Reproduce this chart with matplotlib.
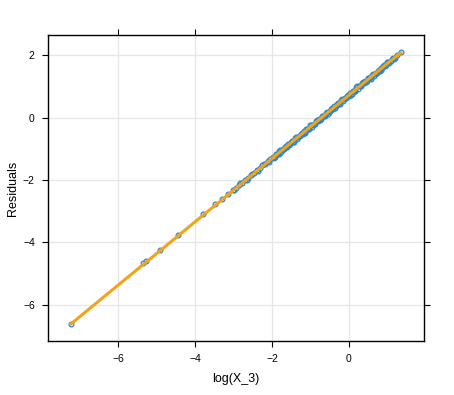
import matplotlib
matplotlib.use("Agg")
import matplotlib.pyplot as plt

# residuals vs log(X_3)
log_x3 = [-7.22, -5.35, -5.28, -4.92, -4.45, -3.78, -3.48, -3.30, -3.15,
          -3.02, -2.93, -2.86, -2.78, -2.70, -2.63, -2.55, -2.47, -2.40, -2.32,
          -2.25, -2.17, -2.10, -2.04,
          -1.98, -1.93, -1.88, -1.83, -1.78, -1.73, -1.68, -1.63, -1.58, -1.53,
          -1.48, -1.43, -1.38, -1.33, -1.28, -1.23, -1.18, -1.13, -1.08, -1.03,
          -0.98, -0.93, -0.88, -0.83, -0.78, -0.73, -0.68, -0.63, -0.58, -0.53,
          -0.48, -0.43, -0.38, -0.33, -0.28, -0.23, -0.18, -0.13, -0.08, -0.03,
          0.02, 0.07, 0.12, 0.17, 0.22, 0.27, 0.32, 0.37, 0.42, 0.47,
          0.52, 0.57, 0.62, 0.67, 0.72, 0.77, 0.82, 0.87, 0.92, 0.97,
          1.02, 1.08, 1.14, 1.20, 1.35,
          -2.98, -2.82, -2.66, -2.51, -2.36, -2.21, -2.07,
          -1.955, -1.905, -1.855, -1.805, -1.755, -1.705, -1.655, -1.605,
          -1.555, -1.505, -1.455, -1.405, -1.355, -1.305, -1.255, -1.205,
          -1.155, -1.105, -1.055, -1.005, -0.955, -0.905, -0.855, -0.805,
          -0.755, -0.705, -0.655, -0.605, -0.555, -0.505, -0.455, -0.405,
          -0.355, -0.305, -0.255, -0.205, -0.155, -0.105, -0.055, -0.005,
          0.045, 0.095, 0.145, 0.195, 0.245, 0.295, 0.345, 0.395,
          0.445, 0.495, 0.545, 0.595, 0.645, 0.695, 0.745, 0.795,
          0.845, 0.895, 0.945, 0.995, 1.05, 1.11, 1.17, 1.25]
residuals = [-6.61, -4.67, -4.60, -4.24, -3.77, -3.08, -2.77, -2.60, -2.44,
             -2.31, -2.24, -2.15, -2.08, -1.99, -1.93, -1.84, -1.77, -1.69, -1.62,
             -1.53, -1.47, -1.38, -1.33,
             -1.25, -1.27, -1.17, -1.18, -1.03, -1.03, -1.00, -0.90, -0.84, -0.86,
             -0.76, -0.78, -0.63, -0.63, -0.60, -0.50, -0.43, -0.45, -0.35, -0.37,
             -0.22, -0.22, -0.19, -0.09, -0.03, -0.05, 0.05, 0.04, 0.19, 0.19,
             0.22, 0.32, 0.38, 0.36, 0.46, 0.44, 0.59, 0.59, 0.62, 0.72,
             0.79, 0.77, 0.87, 0.85, 1.00, 1.00, 1.03, 1.13, 1.19, 1.17,
             1.27, 1.25, 1.41, 1.41, 1.44, 1.54, 1.60, 1.58, 1.68, 1.69,
             1.79, 1.82, 1.90, 1.92, 2.10,
             -2.33, -2.11, -2.01, -1.80, -1.70, -1.49, -1.41,
             -1.30, -1.18, -1.18, -1.06, -1.11, -1.01, -0.94, -0.94,
             -0.89, -0.77, -0.77, -0.65, -0.70, -0.60, -0.53, -0.53,
             -0.49, -0.37, -0.37, -0.25, -0.30, -0.19, -0.12, -0.12,
             -0.08, 0.04, 0.04, 0.16, 0.11, 0.21, 0.28, 0.28,
             0.32, 0.45, 0.45, 0.57, 0.52, 0.62, 0.69, 0.69,
             0.73, 0.85, 0.85, 0.97, 0.92, 1.03, 1.10, 1.10,
             1.14, 1.26, 1.26, 1.38, 1.33, 1.43, 1.50, 1.50,
             1.54, 1.66, 1.67, 1.77, 1.76, 1.87, 1.88, 2.02]

# smoother through the points
smooth_x = [-7.22, -6.0, -5.0, -4.0, -3.0, -2.0, -1.0, 0.0, 1.0, 1.35]
smooth_y = [-6.61, -5.37, -4.36, -3.34, -2.33, -1.31, -0.29, 0.72, 1.74, 2.08]

plt.rcParams['font.family'] = ['Liberation Sans', 'DejaVu Sans']

fig = plt.figure(figsize=(4.54, 3.95), dpi=100)
ax = fig.add_axes([48/454, 54/395, 376/454, 306/395])

ax.plot(log_x3, residuals, 'o', mfc='none', mec='#2a85cc', mew=0.9, ms=3.4, zorder=3)
ax.plot(smooth_x, smooth_y, color='#f2a31a', lw=2.2, zorder=4)

ax.set_xlim(-7.82, 1.95)
ax.set_ylim(-7.16, 2.65)
ax.set_xticks([-6, -4, -2, 0])
ax.set_yticks([-6, -4, -2, 0, 2])
ax.grid(True, color='#e6e6e6', lw=0.9, zorder=0)
ax.set_axisbelow(True)

ax.tick_params(direction='out', length=4.5, width=0.8, labelsize=7.5,
               top=True, right=True, pad=5)
for s in ax.spines.values():
    s.set_linewidth(1.0)

ax.set_xlabel('log(X_3)', fontsize=9, labelpad=6)
ax.set_ylabel('Residuals', fontsize=9, labelpad=3)

fig.savefig('out.png', dpi=100)
